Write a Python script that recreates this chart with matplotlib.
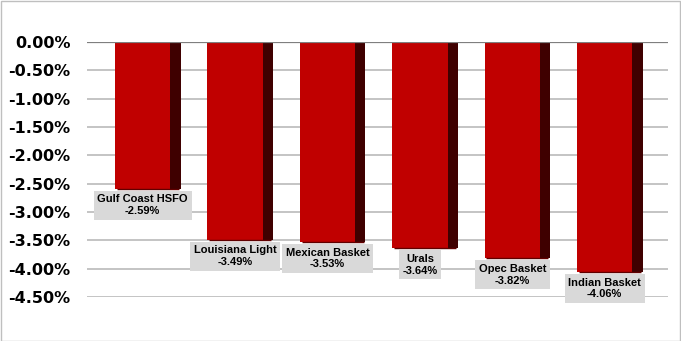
import matplotlib.pyplot as plt
import numpy as np

# data
names = ['Gulf Coast HSFO', 'Louisiana Light', 'Mexican Basket', 'Urals', 'Opec Basket', 'Indian Basket']
values = [-2.59, -3.49, -3.53, -3.64, -3.82, -4.06]
yticks = [0.0, -0.5, -1.0, -1.5, -2.0, -2.5, -3.0, -3.5, -4.0, -4.5]

fig = plt.figure(figsize=(6.81, 3.41), dpi=100)
ax = fig.add_axes([87/681, 1-297/341, (668-87)/681, (297-42)/341])

x = np.arange(len(names))
front_w = 0.6
side_w = 0.11

for y in yticks[1:]:
    ax.axhline(y, color='#bfbfbf', lw=1.3, zorder=0)
ax.axhline(0, color='#7f7f7f', lw=1.6, zorder=3)

ax.bar(x, values, width=front_w, color='#c00000', zorder=2)
ax.bar(x + front_w/2, values, width=side_w, align='edge', color='#3f0000', zorder=2)
# thin shadow along the bottom edge of each bar
ax.hlines(values, x - front_w/2 + 0.02, x + front_w/2 + side_w - 0.02, color='#600000', lw=1, zorder=2)

for xi, v, n in zip(x, values, names):
    ax.text(xi, v - 0.10, n + '\n' + '%.2f%%' % v, ha='center', va='top',
            fontsize=8, fontweight='bold', family='Liberation Sans', linespacing=1.2,
            bbox=dict(boxstyle='square,pad=0.33', fc='#d9d9d9', ec='none'), zorder=4)

ax.set_ylim(-4.5, 0)
ax.set_xlim(-0.603, 5.685)
ax.set_yticks(yticks)
ax.set_yticklabels(['%.2f%%' % t for t in yticks], fontsize=11.5, fontweight='bold', family='DejaVu Sans')
ax.tick_params(axis='y', length=0, pad=12)
ax.set_xticks([])
for s in ax.spines.values():
    s.set_visible(False)

fig.patches.append(plt.Rectangle((0.001, 0.001), 0.997, 0.996, transform=fig.transFigure,
                                 fill=False, ec='#bfbfbf', lw=1))
fig.savefig('out.png', dpi=100)
